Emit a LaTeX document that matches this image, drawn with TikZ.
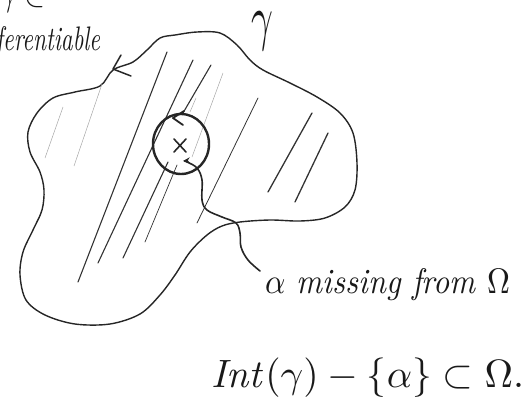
\documentclass[tikz,border=0pt]{standalone}
\usepackage{graphicx}
\usetikzlibrary{arrows.meta}
\tikzset{
  ink/.style={line width=1.3pt, line cap=round, line join=round, black!85},
  outline/.style={ink, line width=1.4pt},
  hatch/.style={line width=1.1pt, line cap=round, black!80},
  faint/.style={line width=0.5pt, line cap=round, black!35},
  thick circ/.style={line width=2.4pt, black!85},
  lbl/.style={inner sep=0pt, outer sep=0pt, black!90},
}
\begin{document}
\begin{tikzpicture}[x=1pt,y=-1pt]
\useasboundingbox (0,0) rectangle (530,402);
\clip (0,0) rectangle (530,402);

% partial texts at the top-left
\node[lbl, anchor=base west] (toptxt) at (-2,6) {\resizebox{48pt}{!}{$\gamma\in$}};
\node[lbl, anchor=base east] (diff) at (100,50) {\resizebox{104pt}{24pt}{\itshape ferentiable}};

% gamma label
\node[lbl] (gam) at (262,31) {\scalebox{3.8}[6.2]{$\gamma$}};

% region outline
\draw[outline] plot[smooth cycle, tension=0.55] coordinates {
  (113,70) (133,62) (147,50) (160,38) (175,35) (197,32) (220,33) (237,45)
  (250,60) (263,70) (290,83) (317,97) (340,113) (353,133) (357,163)
  (355,190) (345,207) (325,218) (300,221) (270,220) (240,222) (222,226) (207,235)
  (190,252) (175,275) (160,295) (140,314) (110,324) (75,324) (45,315)
  (26,300) (20,275) (23,252) (33,230) (42,210) (44,190) (40,172)
  (30,152) (28,132) (37,113) (53,98) (75,92) (100,86)};
% direction arrow on the outline
\draw[ink, line width=1.5pt] (121,55) -- (113,69) -- (131,76);

% hatching
\draw[hatch] (167,52) -- (78,282);
\draw[hatch] (193,60) -- (98,263);
\draw[hatch] (211,65) -- (183,113);
\draw[hatch] (168,162) -- (123,258);
\draw[hatch, line width=0.7pt] (177,165) -- (145,242);
\draw[hatch, line width=0.8pt] (258,98) -- (197,223);
\draw[hatch, line width=1.3pt] (312,113) -- (268,192);
\draw[hatch, line width=1.3pt] (328,133) -- (295,202);
\draw[faint] (223,73) -- (192,157);
\draw[faint] (196,98) -- (190,112);
\draw[faint] (63,107) -- (45,158);
\draw[faint] (102,84) -- (74,166);

% small circle around alpha
\draw[thick circ] (181,144) ellipse [x radius=28, y radius=30];
\draw[ink, line width=1.8pt] (184,111) -- (173,118) -- (183,125);
% the point alpha
\node[lbl] (alpha) at (180,146) {};
\draw[ink, line width=1.6pt] (174,139) -- (186,152) (186,139) -- (174,152);

% label and wavy connector
\node[lbl, anchor=base west] (alab) at (265,293) {\resizebox{245pt}{25pt}{\itshape $\alpha$ missing from $\Omega$}};
\coordinate (wtail) at (260,271);
\draw[ink, line width=1.6pt, -{Stealth[length=7pt,width=6pt]}] plot[smooth, tension=0.6] coordinates {
  (wtail) (248,260) (241,247) (240,233) (236,223) (222,217) (207,210)
  (202,200) (202,180) (197,168) (187,162) (183,161)};

% bottom formula
\node[lbl, anchor=base west] (formula) at (211,387) {\resizebox{313pt}{!}{$\mathit{Int}(\gamma)-\{\alpha\}\subset\Omega.$}};
\end{tikzpicture}
\end{document}
